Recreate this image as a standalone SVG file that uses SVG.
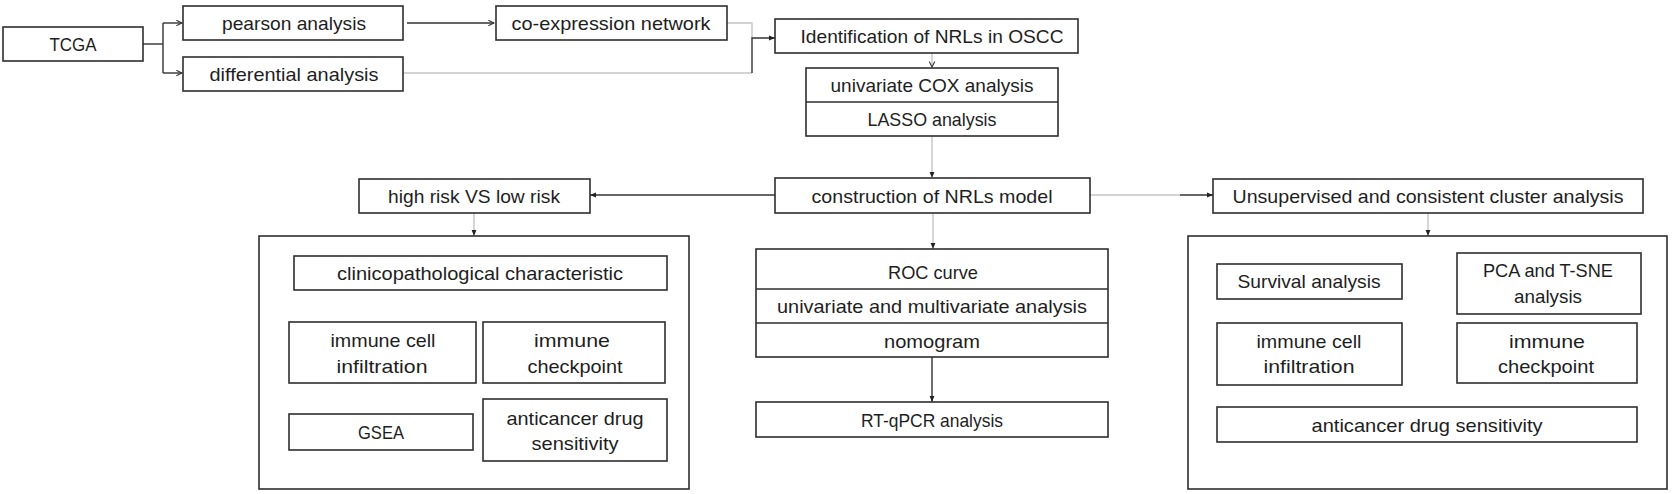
<svg xmlns="http://www.w3.org/2000/svg" width="1673" height="494" viewBox="0 0 1673 494">
<defs>
<style>
.box{fill:#fff;stroke:#2e2e2e;stroke-width:1.6}
.frame{fill:none;stroke:#2e2e2e;stroke-width:1.6}
.div{stroke:#2e2e2e;stroke-width:1.6}
text{font-family:"Liberation Sans",Arial,sans-serif;font-size:19px;fill:#1e1e1e;text-anchor:middle}
.c{fill:none;stroke:#333;stroke-width:1.4}
.g{fill:none;stroke:#c4c4c4;stroke-width:1.4}
</style>
<marker id="open" viewBox="0 0 10 10" refX="9" refY="5" markerWidth="7" markerHeight="7" markerUnits="userSpaceOnUse" orient="auto"><path d="M1,1 L9,5 L1,9" fill="none" stroke="#333" stroke-width="1.5"/></marker>
<marker id="tri" viewBox="0 0 10 10" refX="10" refY="5" markerWidth="6" markerHeight="6" markerUnits="userSpaceOnUse" orient="auto"><path d="M0,1 L10,5 L0,9 Z" fill="#222"/></marker>
</defs>
<rect width="1673" height="494" fill="#fff"/>

<g id="connectors">
<path class="c" d="M143,44 H163"/>
<path class="c" d="M163,23 V73"/>
<path class="c" d="M163,23 H182" marker-end="url(#open)"/>
<path class="c" d="M163,73 H182" marker-end="url(#open)"/>
<path class="c" d="M407,23 H494" marker-end="url(#open)"/>
<path class="g" d="M403,73 H752"/>
<path class="g" d="M727,23 H752 V38"/>
<path class="c" d="M752,73 V38 H775" marker-end="url(#tri)"/>
<path class="g" d="M932,53 V67" marker-end="url(#open)"/>
<path class="g" d="M932,136 V178"/>
<path d="M932,170 V178" fill="none" stroke="none" marker-end="url(#tri)"/>
<path class="c" d="M775,195 H590" marker-end="url(#tri)"/>
<path class="g" d="M1090,195 H1180"/>
<path class="c" d="M1180,195 H1213" marker-end="url(#tri)"/>
<path class="g" d="M474,213 V236"/>
<path d="M474,228 V236" fill="none" stroke="none" marker-end="url(#tri)"/>
<path class="g" d="M933,213 V249"/>
<path d="M933,241 V249" fill="none" stroke="none" marker-end="url(#tri)"/>
<path class="g" d="M1428,213 V236"/>
<path d="M1428,228 V236" fill="none" stroke="none" marker-end="url(#tri)"/>
<path class="c" d="M932,357 V402" marker-end="url(#tri)"/>
</g>

<g id="tcga"><rect class="box" x="3" y="27" width="140" height="34"/><text x="73" y="51" textLength="47" lengthAdjust="spacingAndGlyphs">TCGA</text></g>
<g id="pearson"><rect class="box" x="183" y="6" width="220" height="34"/><text x="294" y="30" textLength="144" lengthAdjust="spacingAndGlyphs">pearson analysis</text></g>
<g id="differential"><rect class="box" x="183" y="57" width="220" height="34"/><text x="294" y="81" textLength="169" lengthAdjust="spacingAndGlyphs">differential analysis</text></g>
<g id="coexpression"><rect class="box" x="496" y="6" width="231" height="34"/><text x="611" y="30" textLength="199" lengthAdjust="spacingAndGlyphs">co-expression network</text></g>
<g id="identification"><rect class="box" x="775" y="19" width="303" height="34"/><text x="932" y="43" textLength="263" lengthAdjust="spacingAndGlyphs">Identification of NRLs in OSCC</text></g>
<g id="cox-lasso"><rect class="box" x="806" y="68" width="252" height="68"/><line class="div" x1="806" y1="102" x2="1058" y2="102"/><text x="932" y="92" textLength="203" lengthAdjust="spacingAndGlyphs">univariate COX analysis</text><text x="932" y="126" textLength="129" lengthAdjust="spacingAndGlyphs">LASSO analysis</text></g>
<g id="construction"><rect class="box" x="775" y="178" width="315" height="35"/><text x="932" y="203" textLength="241" lengthAdjust="spacingAndGlyphs">construction of NRLs model</text></g>
<g id="highrisk"><rect class="box" x="359" y="179" width="231" height="34"/><text x="474" y="203" textLength="172" lengthAdjust="spacingAndGlyphs">high risk VS low risk</text></g>
<g id="unsupervised"><rect class="box" x="1213" y="179" width="430" height="34"/><text x="1428" y="203" textLength="391" lengthAdjust="spacingAndGlyphs">Unsupervised and consistent cluster analysis</text></g>

<g id="left-panel">
<rect class="frame" x="259" y="236" width="430" height="253"/>
<g id="clinico"><rect class="box" x="294" y="256" width="373" height="34"/><text x="480" y="280" textLength="286" lengthAdjust="spacingAndGlyphs">clinicopathological characteristic</text></g>
<g id="immune-cell-l"><rect class="box" x="289" y="322" width="187" height="61"/><text x="383" y="347" textLength="105" lengthAdjust="spacingAndGlyphs">immune cell</text><text x="382" y="373" textLength="91" lengthAdjust="spacingAndGlyphs">infiltration</text></g>
<g id="checkpoint-l"><rect class="box" x="483" y="322" width="182" height="61"/><text x="572" y="347" textLength="76" lengthAdjust="spacingAndGlyphs">immune</text><text x="575" y="373" textLength="95" lengthAdjust="spacingAndGlyphs">checkpoint</text></g>
<g id="gsea"><rect class="box" x="289" y="414" width="184" height="36"/><text x="381" y="439" textLength="46" lengthAdjust="spacingAndGlyphs">GSEA</text></g>
<g id="drug-l"><rect class="box" x="483" y="399" width="184" height="62"/><text x="575" y="425" textLength="137" lengthAdjust="spacingAndGlyphs">anticancer drug</text><text x="575" y="450" textLength="87" lengthAdjust="spacingAndGlyphs">sensitivity</text></g>
</g>

<g id="roc-stack"><rect class="box" x="756" y="249" width="352" height="108"/><line class="div" x1="756" y1="289" x2="1108" y2="289"/><line class="div" x1="756" y1="323" x2="1108" y2="323"/><text x="933" y="279" textLength="90" lengthAdjust="spacingAndGlyphs">ROC curve</text><text x="932" y="313" textLength="310" lengthAdjust="spacingAndGlyphs">univariate and multivariate analysis</text><text x="932" y="348" textLength="96" lengthAdjust="spacingAndGlyphs">nomogram</text></g>
<g id="rtqpcr"><rect class="box" x="756" y="402" width="352" height="35"/><text x="932" y="427" textLength="142" lengthAdjust="spacingAndGlyphs">RT-qPCR analysis</text></g>

<g id="right-panel">
<rect class="frame" x="1188" y="236" width="479" height="253"/>
<g id="survival"><rect class="box" x="1217" y="264" width="185" height="35"/><text x="1309" y="288" textLength="143" lengthAdjust="spacingAndGlyphs">Survival analysis</text></g>
<g id="pca"><rect class="box" x="1457" y="253" width="184" height="61"/><text x="1548" y="277" textLength="130" lengthAdjust="spacingAndGlyphs">PCA and T-SNE</text><text x="1548" y="303" textLength="68" lengthAdjust="spacingAndGlyphs">analysis</text></g>
<g id="immune-cell-r"><rect class="box" x="1217" y="323" width="185" height="62"/><text x="1309" y="348" textLength="105" lengthAdjust="spacingAndGlyphs">immune cell</text><text x="1309" y="373" textLength="91" lengthAdjust="spacingAndGlyphs">infiltration</text></g>
<g id="checkpoint-r"><rect class="box" x="1457" y="323" width="180" height="60"/><text x="1547" y="348" textLength="76" lengthAdjust="spacingAndGlyphs">immune</text><text x="1546" y="373" textLength="96" lengthAdjust="spacingAndGlyphs">checkpoint</text></g>
<g id="drug-r"><rect class="box" x="1217" y="407" width="420" height="35"/><text x="1427" y="432" textLength="231" lengthAdjust="spacingAndGlyphs">anticancer drug sensitivity</text></g>
</g>
</svg>
